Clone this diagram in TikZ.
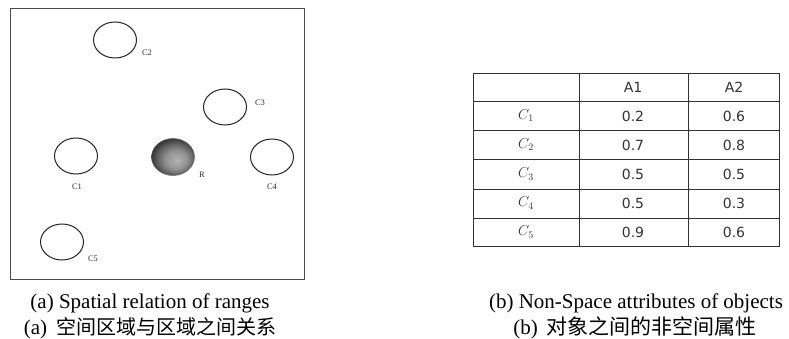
\documentclass[tikz,border=0pt]{standalone}
\usepackage{fontspec}
\setmainfont{Liberation Serif}
\newfontfamily\cjk{Noto Sans CJK SC}
\newfontfamily\tabfont{DejaVu Sans}
\usetikzlibrary{shapes.geometric}
\pgfdeclareradialshading{rball}{\pgfqpoint{5bp}{-5bp}}{color(0bp)=(black!30); color(12bp)=(black!42); color(21bp)=(black!62); color(28bp)=(black!80); color(50bp)=(black!80)}
\begin{document}
\begin{tikzpicture}[x=1pt,y=-1pt,
  obj/.style={draw=black!85, line width=1pt, ellipse, minimum width=43pt, minimum height=36pt, inner sep=0pt},
  lbl/.style={font=\fontsize{8.5}{9}\selectfont, text=black!80, inner sep=0pt},
  cell/.style={font=\tabfont\fontsize{14}{15}\selectfont, text=black!80, inner sep=0pt},
  captext/.style={font=\fontsize{21}{23}\selectfont, inner sep=0pt, anchor=base},
  cjkcap/.style={font=\fontsize{21}{23}\selectfont, inner sep=0pt, anchor=base}]
\useasboundingbox (0,0) rectangle (789,339);
\fill[white] (0,0) rectangle (789,339);
% left panel
\draw[black!70, line width=0.9pt] (10,8) rectangle (304,279);
\node[obj] (c2) at (115,40) {};
\node[obj] (c3) at (225,107) {};
\node[obj] (c1) at (76,156) {};
\node[obj] (c4) at (272,157) {};
\node[obj] (c5) at (62,242) {};
\node[ellipse, minimum width=43pt, minimum height=37pt, inner sep=0pt, draw=black!60, line width=0.5pt,
  shading=rball] (r) at (173,157) {};
\node[lbl] (l2) at (147,53) {C2};
\node[lbl] (l3) at (260,103) {C3};
\node[lbl] (l1) at (77,187) {C1};
\node[lbl] (lr) at (202,175) {R};
\node[lbl] (l4) at (272,187) {C4};
\node[lbl] (l5) at (93,259) {C5};
% table
\draw[black!80, line width=0.9pt] (473,73) rectangle (779,246);
\foreach \yy in {101,130,159,189,218} \draw[black!80, line width=0.9pt] (473,\yy) -- (779,\yy);
\foreach \xx in {579,688} \draw[black!80, line width=0.9pt] (\xx,73) -- (\xx,246);
\node[cell] (h1) at (633,87.5) {A1};
\node[cell] (h2) at (734,87.5) {A2};
\node[cell] (r1) at (526,116) {$C_1$};
\node[cell] (r2) at (526,145) {$C_2$};
\node[cell] (r3) at (526,174) {$C_3$};
\node[cell] (r4) at (526,203) {$C_4$};
\node[cell] (r5) at (526,232) {$C_5$};
\node[cell] (v11) at (633,116) {0.2};
\node[cell] (v12) at (734,116) {0.6};
\node[cell] (v21) at (633,145) {0.7};
\node[cell] (v22) at (734,145) {0.8};
\node[cell] (v31) at (633,174) {0.5};
\node[cell] (v32) at (734,174) {0.5};
\node[cell] (v41) at (633,203) {0.5};
\node[cell] (v42) at (734,203) {0.3};
\node[cell] (v51) at (633,232) {0.9};
\node[cell] (v52) at (734,232) {0.6};
% captions
\node[captext] (ca) at (150,308) {(a) Spatial relation of ranges};
\node[captext] (cb) at (636,308) {(b) Non-Space attributes of objects};
\node[cjkcap] (ca2) at (150,334) {(a)\hspace{9pt}{\cjk\fontsize{20}{22}\selectfont 空间区域与区域之间关系}};
\node[cjkcap] (cb2) at (635,334) {(b)\hspace{9pt}{\cjk\fontsize{21}{22}\selectfont 对象之间的非空间属性}};
\end{tikzpicture}
\end{document}
